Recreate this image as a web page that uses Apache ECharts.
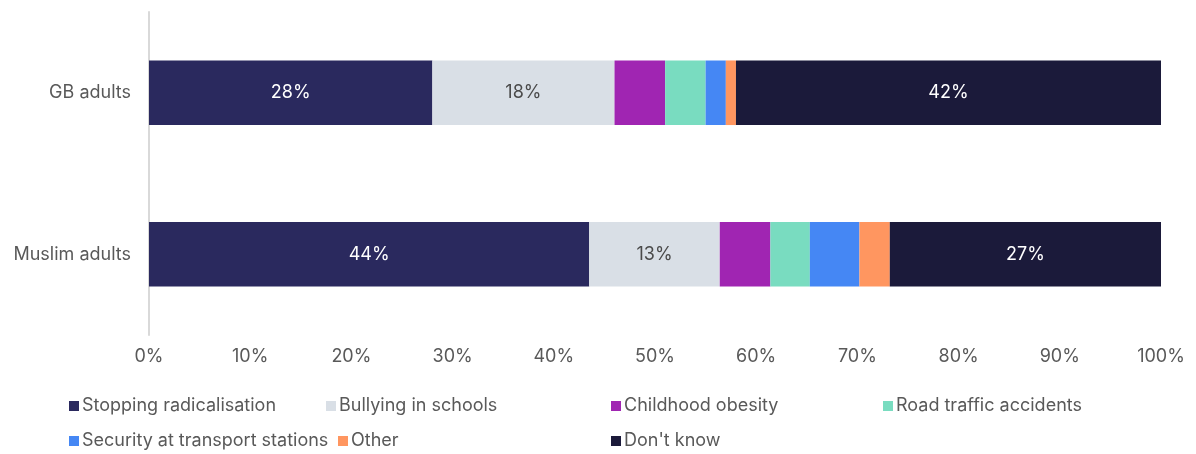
<!DOCTYPE html>
<html>
<head>
<meta charset="utf-8">
<script src="https://cdn.jsdelivr.net/npm/echarts@6/dist/echarts.min.js"></script>
<style>
  html, body { margin: 0; padding: 0; background: #fff; }
  #chart { width: 1196px; height: 454px; }
</style>
</head>
<body>
<div id="chart"></div>
<script>
// Survey groups (top to bottom)
const groups = ['GB adults', 'Muslim adults'];

// Share of respondents choosing each priority, in percent
const stoppingRadicalisation = [28, 43.5];
const bullyingInSchools      = [18, 12.9];
const childhoodObesity       = [5, 5.0];
const roadTrafficAccidents   = [4, 3.9];
const securityAtStations     = [2, 4.9];
const other                  = [1, 3.0];
const dontKnow               = [42, 26.8];

const xTicks = [0, 10, 20, 30, 40, 50, 60, 70, 80, 90, 100];

const seriesDefs = [
  { name: 'Stopping radicalisation', data: stoppingRadicalisation, color: '#2a295e', label: '#ffffff' },
  { name: 'Bullying in schools', data: bullyingInSchools, color: '#d9dfe6', label: '#4a4a4a' },
  { name: 'Childhood obesity', data: childhoodObesity, color: '#a025b2', label: null },
  { name: 'Road traffic accidents', data: roadTrafficAccidents, color: '#79dcc0', label: null },
  { name: 'Security at transport stations', data: securityAtStations, color: '#4587f4', label: null },
  { name: 'Other', data: other, color: '#ff9660', label: null },
  { name: "Don't know", data: dontKnow, color: '#1b1a3a', label: '#ffffff' }
];

const FONT = 'Inter, "Liberation Sans", Arial, sans-serif';
const FS = 18;

const chart = echarts.init(document.getElementById('chart'), null, { renderer: 'canvas' });

// One legend block per entry so the two-row layout lines up in columns
const legendSpots = [
  [69, 397], [326, 397], [611, 397], [883, 397],
  [69, 432], [338, 432], [611, 432]
];

const legends = seriesDefs.map((s, i) => ({
  data: [s.name],
  left: legendSpots[i][0],
  top: legendSpots[i][1],
  itemWidth: 10,
  itemHeight: 10,
  icon: 'rect',
  padding: 0,
  textStyle: { fontFamily: FONT, fontSize: FS, color: '#595959', padding: [0, 0, 0, -2] },
  selectedMode: false
}));

chart.setOption({
  animation: false,
  backgroundColor: '#ffffff',
  grid: { left: 149, right: 35, top: 12, bottom: 119, containLabel: false },
  legend: legends,
  xAxis: {
    type: 'value',
    min: 0,
    max: 100,
    interval: 10,
    axisLine: { show: false },
    axisTick: { show: false },
    splitLine: { show: false },
    axisLabel: {
      fontFamily: FONT, fontSize: FS, color: '#595959', margin: 13,
      formatter: v => xTicks.includes(v) ? v + '%' : ''
    }
  },
  yAxis: {
    type: 'category',
    data: groups,
    inverse: true,
    axisLine: { show: true, lineStyle: { color: '#d9d9d9', width: 2 } },
    axisTick: { show: false },
    axisLabel: { fontFamily: FONT, fontSize: FS, color: '#595959', margin: 18 }
  },
  series: seriesDefs.map(s => ({
    name: s.name,
    type: 'bar',
    stack: 'total',
    barWidth: '40%',
    data: s.data,
    itemStyle: { color: s.color },
    label: {
      show: !!s.label,
      position: 'inside',
      color: s.label || '#fff',
      fontFamily: FONT,
      fontSize: FS,
      formatter: p => Math.round(p.value) + '%'
    }
  }))
});
</script>
</body>
</html>
